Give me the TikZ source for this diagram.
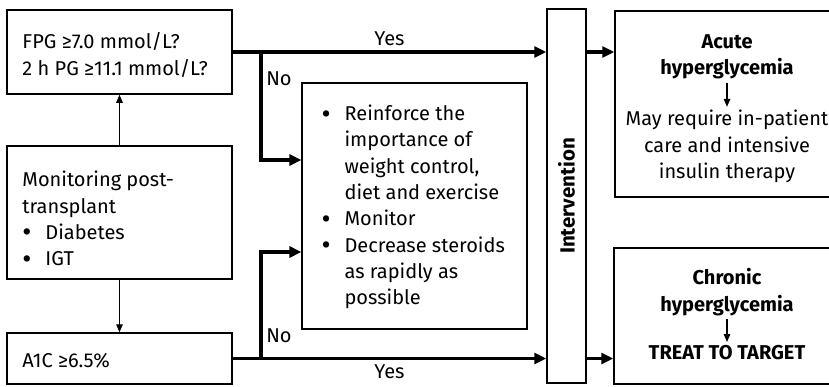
\documentclass[tikz,border=0pt]{standalone}
\usepackage{fontspec}
\setmainfont{Fira Sans}
\usetikzlibrary{arrows.meta,positioning}
\newcommand{\bul}{\makebox[23pt][l]{\smash{\raisebox{-2.6pt}{\scalebox{1.4}{\textbullet}}}}}
\newcommand{\ind}{\hspace*{23pt}}

\begin{document}
\begin{tikzpicture}[x=1pt,y=-1pt,font=\fontsize{20}{26.3}\selectfont,node distance=26pt,
    box/.style={draw,line width=1.5pt,inner sep=0pt},
    txt/.style={align=left,anchor=west,inner sep=0pt},
    flow/.style={line width=3.6pt,-{Triangle[length=12pt,width=11pt]}},
    link/.style={line width=1.4pt,-{Triangle[length=8pt,width=6.5pt]}},
    hdr/.style={font=\fontsize{20}{26.3}\selectfont\bfseries,align=center}]
  \useasboundingbox (0,0) rectangle (829,386);
  % left column
  \node[box,minimum width=225pt,minimum height=84pt] (fpg) at (119.5,52) {};
  \node[txt] at ([xshift=16pt,yshift=-3pt]fpg.west) {FPG ≥7.0 mmol/L?\\2 h PG ≥11.1 mmol/L?};
  \node[box,minimum width=225pt,minimum height=133pt] (mon) at (119.5,212.5) {};
  \node[txt] at ([xshift=16pt,yshift=-6pt]mon.west) {Monitoring post-\\transplant\\\bul Diabetes\\\bul IGT};
  \node[box,minimum width=225pt,minimum height=51pt] (a1c) at (119.5,358.5) {};
  \node[txt] at ([xshift=16pt,yshift=-2pt]a1c.west) {A1C ≥6.5\%};
  \draw[link] (mon) -- (fpg); \draw[link] (mon) -- (a1c);
  % lifestyle box and intervention bar
  \node[box,line width=1.2pt,minimum width=225pt,minimum height=246pt] (life) at (414.5,206) {};
  \node[txt] at ([xshift=20pt,yshift=-1pt]life.west) {\bul Reinforce the\\\ind importance of\\\ind weight control,\\\ind diet and exercise\\\bul Monitor\\\bul Decrease steroids\\\ind as rapidly as\\\ind possible};
  \node[box,minimum width=39pt,minimum height=374pt] (bar) at (566.5,196) {};
  \node[rotate=90,font=\fontsize{20.5}{26.3}\selectfont\bfseries] at (bar) {Intervention};
  % outcome boxes
  \node[box,minimum width=224pt,minimum height=186pt] (acute) at (727,104) {};
  \node[hdr] (acT) at (727,57) {Acute\\hyperglycemia};
  \node[align=center,below=24pt of acT] (acB) {May require in-patient\\care and intensive\\insulin therapy};
  \draw[link,line width=1.2pt] (acT) -- (acB);
  \node[box,minimum width=225pt,minimum height=136pt] (chron) at (726.5,316) {};
  \node[hdr] (chT) at (727,292) {Chronic\\hyperglycemia};
  \node[hdr,below=23pt of chT] (chB) {TREAT TO TARGET};
  \draw[link,line width=1.2pt] (chT) -- (chB);
  % decision connectors
  \coordinate (j1) at ([xshift=28pt]fpg.east);
  \coordinate (j2) at ([xshift=28pt]a1c.east);
  \draw[flow] (fpg.east) -- node[above=1pt]{Yes} (fpg.east -| bar.west);
  \draw[flow] (a1c.east) -- node[below=1pt]{Yes} (a1c.east -| bar.west);
  \draw[flow] (j1) |- ([yshift=46pt]life.west);
  \draw[flow] (j2) |- ([yshift=-46pt]life.west);
  \node[anchor=north west] at ([xshift=2pt,yshift=-16pt]j1) {No};
  \node[anchor=south west] at ([xshift=2pt,yshift=12pt]j2) {No};
  \draw[flow] (bar.east |- fpg.east) -- (acute.west |- fpg.east);
  \draw[flow] (bar.east |- a1c.east) -- (chron.west |- a1c.east);
\end{tikzpicture}
\end{document}
